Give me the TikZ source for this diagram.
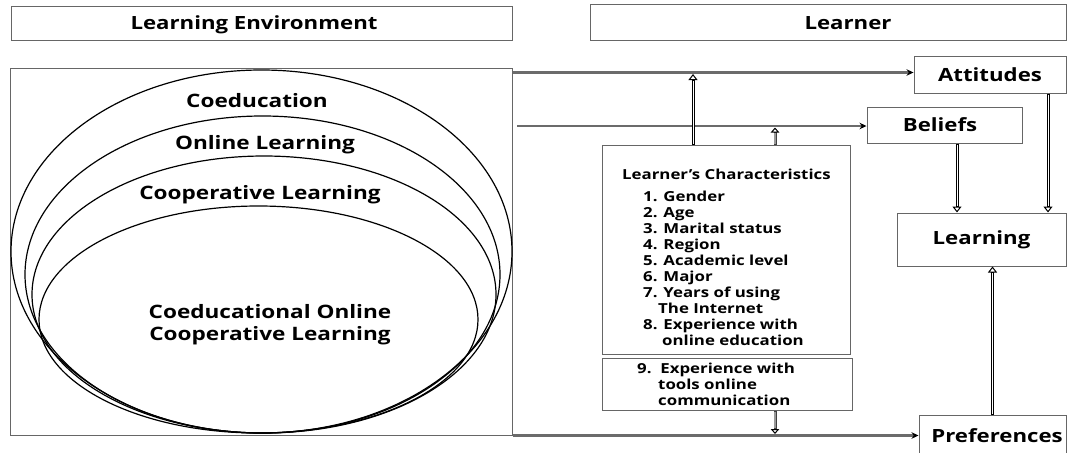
\documentclass[tikz,border=0pt]{standalone}
\usepackage{fontspec}
\setmainfont{Open Sans}[FakeStretch=1.22]
\usetikzlibrary{arrows.meta}

\tikzset{
  frame/.style={draw=black!60, line width=1pt, inner sep=0pt},
  boxlabel/.style={font=\bfseries\fontsize{18.2}{21}\selectfont, inner sep=0pt},
  tag/.style={font=\bfseries\fontsize{18.5}{22}\selectfont, inner sep=0pt, align=center},
  list/.style={font=\bfseries\fontsize{13.8}{16}\selectfont, align=left, inner sep=0pt, anchor=north west},
  ring/.style={draw=black, line width=1.2pt},
  flow/.style={draw=black!58, line width=2.4pt, -{Stealth[length=7pt,width=6.5pt,black]}},
  hollow/.style={draw=black, line width=3pt,
                 -{Triangle[open,length=6pt,width=9pt,line width=1pt]},
                 postaction={draw=white, line width=1pt, -, shorten >=6.8pt, shorten <=1pt}},
  hollowgray/.style={draw=black!75, line width=3pt,
                 -{Triangle[open,length=5pt,width=8.5pt,line width=1pt,black]},
                 postaction={draw=black!40, line width=1.4pt, -, shorten >=5.8pt, shorten <=1pt}},
}

\begin{document}
\begin{tikzpicture}[x=1pt,y=-1pt]
\useasboundingbox (0,0) rectangle (1067,452);

% headers
\node[frame, minimum width=501pt, minimum height=34pt,
      label={[boxlabel, xshift=-7.5pt, yshift=-1pt]center:Learning Environment}] (envtitle) at (261.5,24) {};
\node[frame, minimum width=476pt, minimum height=36pt,
      label={[boxlabel, xshift=20pt]center:Learner}] (lrntitle) at (828,23) {};

% learning environment with nested ellipses
\node[frame, minimum width=502pt, minimum height=367pt] (env) at (261,251.5) {};
\draw[ring] (261.5,251.5) ellipse [x radius=250.5pt, y radius=181.5pt];
\draw[ring] (262.5,274.5) ellipse [x radius=237.5pt, y radius=158.5pt];
\draw[ring] (264,294.5) ellipse [x radius=232pt, y radius=138.5pt];
\draw[ring] (258.5,319.5) ellipse [x radius=219.5pt, y radius=113.5pt];
\node[tag] (coed) at (257,101) {Coeducation};
\node[tag] (online) at (265,145) {Online Learning};
\node[tag] (coop) at (260,195) {Cooperative Learning};
\node[tag] (core) at (270,325) {Coeducational Online\\Cooperative Learning};

% learner outcomes
\node[frame, minimum width=152pt, minimum height=36pt, boxlabel] (att) at (990,75) {Attitudes};
\node[frame, minimum width=155pt, minimum height=36pt,
      label={[boxlabel, xshift=-4.5pt]center:Beliefs}] (bel) at (944.5,125) {};
\node[frame, minimum width=169pt, minimum height=53pt, boxlabel] (lrn) at (981.5,239.5) {Learning};
\node[frame, minimum width=147pt, minimum height=42pt,
      label={[boxlabel, xshift=4.5pt]center:Preferences}] (pref) at (992.5,436) {};

% learner's characteristics
\node[frame, minimum width=248pt, minimum height=209pt] (lc) at (726,249.5) {};
\node[list] (lctext) at (622,169) {Learner’s Characteristics\\[6pt]
\hspace*{21pt}1. Gender\\
\hspace*{21pt}2. Age\\
\hspace*{21pt}3. Marital status\\
\hspace*{21pt}4. Region\\
\hspace*{21pt}5. Academic level\\
\hspace*{21pt}6. Major\\
\hspace*{21pt}7. Years of using\\
\hspace*{36pt}The Internet\\
\hspace*{21pt}8. Experience with\\
\hspace*{40pt}online education};
\node[frame, minimum width=250pt, minimum height=52pt] (tools) at (727,384) {};
\node[list] (toolstext) at (637,363) {9.\ \ Experience with\\
\hspace*{21pt}tools online\\
\hspace*{21pt}communication};

% horizontal flows
\coordinate (t1) at ([yshift=-5pt]env.north east);
\draw[flow] (t1) -- (t1 -| att.west);
\coordinate (b1) at (517,126);
\draw[flow] (b1) -- (b1 -| bel.west);
\draw[flow] (env.south east) -- (env.south east -| pref.west);

% vertical links from the characteristics
\coordinate (u1) at ([xshift=-33pt]lc.north);
\draw[hollow] (u1) -- ([yshift=-1.5pt]u1 |- t1);
\coordinate (u2) at ([xshift=49pt]lc.north);
\draw[hollowgray] (u2) -- ([yshift=-1.5pt]u2 |- b1);
\coordinate (d1) at ([xshift=48pt]tools.south);
\draw[hollowgray] (d1) -- ([yshift=1.5pt]d1 |- env.south east);

% links into learning
\coordinate (bl) at ([xshift=12.5pt]bel.south);
\draw[hollow] (bl) -- (bl |- lrn.north);
\coordinate (al) at ([xshift=58pt]att.south);
\draw[hollow] (al) -- (al |- lrn.north);
\coordinate (pl) at (pref.north);
\draw[hollow] (pl) -- (pl |- lrn.south);
\end{tikzpicture}
\end{document}
